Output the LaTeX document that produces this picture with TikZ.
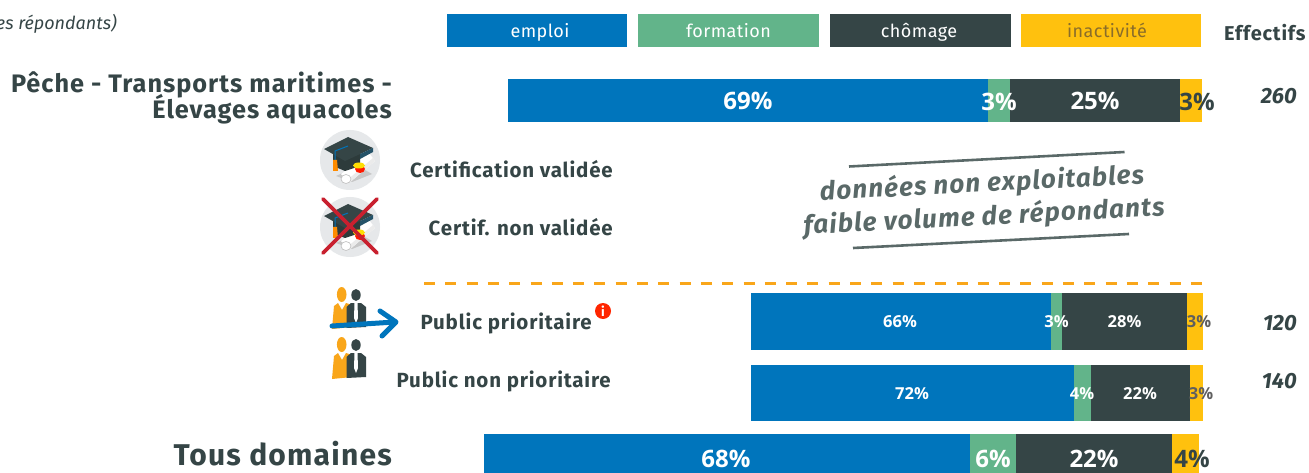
\documentclass[tikz,border=0pt]{standalone}
\usepackage{fontspec}
\setmainfont{Fira Sans}
\newfontfamily\pctfont{Open Sans}
\definecolor{cemploi}{HTML}{0075BC}
\definecolor{cform}{HTML}{62B48A}
\definecolor{cchom}{HTML}{354546}
\definecolor{cinact}{HTML}{FFC10E}
\definecolor{cinacttxt}{HTML}{8A6D2A}
\definecolor{ctilt}{HTML}{5A6968}
\definecolor{cdash}{HTML}{F9A61A}
\definecolor{cpct}{HTML}{5F5F5F}
\definecolor{ccross}{HTML}{C8202F}
\definecolor{cdisc}{HTML}{E6E8EA}
\tikzset{
  x=1pt,y=-1pt,
  legbox/.style={inner sep=0,outer sep=0,minimum height=33pt,text height=17pt,text depth=2pt,text=white,font=\fontsize{18}{20}\selectfont\fontseries{l}\selectfont\addfontfeature{LetterSpace=2.5}},
  pctw/.style={text=white,inner sep=0,font=\pctfont\bfseries\fontsize{#1}{#1}\selectfont},
  pctd/.style={text=cpct,inner sep=0,font=\pctfont\bfseries\fontsize{#1}{#1}\selectfont},
  rowlab/.style={text=cchom,inner sep=0,anchor=east,font=\bfseries\fontsize{#1}{#1}\selectfont\addfontfeature{LetterSpace=4}},
  effval/.style={text=cchom,inner sep=0,anchor=east,font=\bfseries\itshape\fontsize{22}{22}\selectfont},
  tilttxt/.style={text=ctilt,inner sep=0,rotate=3,font=\bfseries\itshape\fontsize{26}{26}\selectfont\addfontfeature{LetterSpace=4.5}},
  tiltline/.style={draw=ctilt,line width=2.6pt},
}
% bar: name, top, bottom, x0 x1 x2 x3 x4
\newcommand{\barrow}[8]{%
  \fill[cemploi] (#4,#2) rectangle (#5,#3);
  \fill[cform] (#5,#2) rectangle (#6,#3);
  \fill[cchom] (#6,#2) rectangle (#7,#3);
  \fill[cinact] (#7,#2) rectangle (#8,#3);
}
\newcommand{\capicon}[2]{%
\begin{scope}[shift={(#1,#2)}]
  \fill[cdisc] (0,0) circle (30);
  \fill[black!22] (-14,16) -- (8,6) -- (22,14) -- (2,22) -- cycle;
  \fill[white] (-9,14) -- (19,-7) -- (25,1) -- (-1,23) -- cycle;
  \fill[black!8] (-5,22) -- (-1,23) -- (25,1) -- (23,-2) -- cycle;
  \fill[white,draw=black!25,line width=.6pt] (-4,19) ellipse (5 and 4.5);
  \fill[cchom!85!black] (-17,-6) -- (-17,6) -- (-5,11) -- (10,6) -- (10,-6) -- cycle;
  \fill[cchom] (-26,-11) -- (-2,-23) -- (23,-12) -- (-5,1) -- cycle;
  \fill[cchom!70!cemploi] (10,-6) -- (23,-12) -- (23,-8) -- (10,-1) -- cycle;
  \draw[cemploi,line width=1pt] (-2,-14) -- (-15,-9) -- (-15,0);
  \fill[orange!90!yellow] (-17,0) -- (-13,0) -- (-12,11) -- (-17,11) -- cycle;
  \fill[red!80!orange] (10,9) ellipse (5 and 4);
  \fill[yellow!80!orange] (9,5.5) ellipse (6 and 3);
\end{scope}}
\newcommand{\peopleicon}[1]{%
\begin{scope}[shift={(0,#1)}]
  \fill[cdash] (341.7,294.5) ellipse (4.8 and 7.5);
  \fill[cdash] (332,329) -- (334,306) -- (338,303) -- (342,310) -- (346,303) -- (352,305) -- (352,327) -- cycle;
  \fill[cchom] (356,295) ellipse (4.7 and 6);
  \fill[cchom] (346.5,328) -- (346.5,307) -- (351,303) -- (361,303) -- (366,307) -- (366,327) -- cycle;
  \fill[white] (354.5,303) -- (357.5,303) -- (358,318) -- (356,323) -- (354,318) -- cycle;
\end{scope}}
\begin{document}
\begin{tikzpicture}
\useasboundingbox (0,0) rectangle (1309,473);
\fill[white] (0,0) rectangle (1309,473);
\begin{scope}
\clip (0,0) rectangle (1309,473);
% caption
\node[anchor=east,inner sep=0,text=cchom,font=\itshape\fontsize{18}{18}\selectfont] (cap) at (117,24) {es répondants)};
% legend
\node[legbox,fill=cemploi,minimum width=180pt] (lg1) at (537,30.5) {\hspace*{6pt}emploi};
\node[legbox,fill=cform,minimum width=181pt] (lg2) at (728.5,30.5) {formation};
\node[legbox,fill=cchom,minimum width=181pt] (lg3) at (920.5,30.5) {chômage\hspace*{3pt}};
\node[legbox,fill=cinact,text=cinacttxt,minimum width=180pt] (lg4) at (1111,30.5) {inactivité\hspace*{8pt}};
\node[anchor=west,inner sep=0,text=cchom,font=\bfseries\fontsize{20}{20}\selectfont\addfontfeature{LetterSpace=4}] (eff) at (1224,33) {Effectifs};
% bars
\barrow{a}{79}{122}{508}{988}{1010}{1180}{1202}
\barrow{b}{293}{349.5}{751}{1051}{1062}{1187}{1203}
\barrow{c}{365}{421}{751}{1074}{1091}{1190}{1203}
\barrow{d}{434}{480}{484}{970}{1016}{1172}{1199}
% row titles
\node[rowlab=25.3,align=right] (t1) at (392,98) {Pêche - Transports maritimes -\\[-5pt]Élevages aquacoles};
\node[rowlab=30] (t4) at (392,454) {Tous domaines};
\node[rowlab=20.5] (l1) at (613,169.5) {Certification validée};
\node[rowlab=20.5] (l2) at (613,227) {Certif. non validée};
\node[rowlab=20.5] (l3) at (592,323) {Public prioritaire};
\node[rowlab=20.5] (l4) at (611,381) {Public non prioritaire};
% percents
\node[pctw=24] (a1) at (748,101) {69\%};
\node[pctw=24] (a2) at (999,102) {3\%};
\node[pctw=24] (a3) at (1095,101) {25\%};
\node[pctd=24,text=cchom] (a4) at (1197,102) {3\%};
\node[pctw=16.5] (b1) at (900,322) {66\%};
\node[pctw=16.5] (b2) at (1056.5,322) {3\%};
\node[pctw=16.5] (b3) at (1124.5,322) {28\%};
\node[pctd=16.5] (b4) at (1199,322) {3\%};
\node[pctw=16.5] (c1) at (912,394) {72\%};
\node[pctw=16.5] (c2) at (1082,394) {4\%};
\node[pctw=16.5] (c3) at (1140,394) {22\%};
\node[pctd=16.5] (c4) at (1201,394) {3\%};
\node[pctw=24] (d1) at (726,459) {68\%};
\node[pctw=24] (d2) at (993,459) {6\%};
\node[pctw=24] (d3) at (1094,459) {22\%};
\node[pctd=24,text=cchom] (d4) at (1192,459) {4\%};
% effectifs
\node[effval] (e1) at (1297,96) {260};
\node[effval] (e2) at (1297,323) {120};
\node[effval] (e3) at (1297,381) {140};
% tilted note
\draw[tiltline] (849,166.5) -- (1124.5,152);
\draw[tiltline] (853,248) -- (1129,234);
\node[tilttxt] (n1) at (982,184) {données non exploitables};
\node[tilttxt] (n2) at (984,217) {faible volume de répondants};
% dashed separator
\draw[cdash,line width=3pt,dash pattern=on 11pt off 10.3pt] (424,283) -- (1203,283);
% icons
\capicon{350}{160}
\capicon{350}{227}
\draw[ccross,line width=3.6pt,line cap=round] (323,199) -- (377,253) (377,199) -- (323,253);
\peopleicon{0}
\peopleicon{50}
\draw[cemploi,line width=5pt,line cap=round] (332,326) -- (395,322);
\draw[cemploi,line width=5pt,line cap=round,line join=round] (380,311) -- (396,322) -- (382,336);
% info badge
\fill[red!70!orange] (603,311) circle (8);
\node[text=white,inner sep=0,font=\bfseries\fontsize{13}{13}\selectfont] (inf) at (603,311) {i};
\end{scope}
\end{tikzpicture}
\end{document}
